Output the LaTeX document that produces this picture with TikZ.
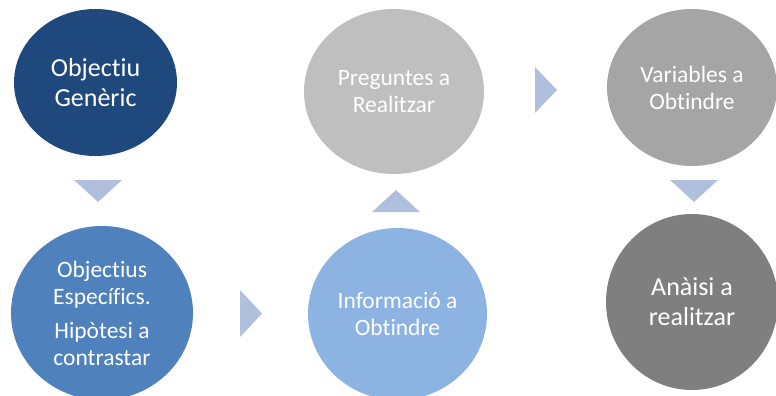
\documentclass[tikz,border=0pt]{standalone}
\usepackage{fontspec}
\setmainfont{Carlito}[Ligatures={NoCommon,NoRare}]
\usetikzlibrary{shapes.geometric}
\definecolor{cA}{HTML}{1F497D}
\definecolor{cB}{HTML}{4F81BD}
\definecolor{cC}{HTML}{BFBFBF}
\definecolor{cD}{HTML}{8DB3E2}
\definecolor{cE}{HTML}{A5A5A5}
\definecolor{cF}{HTML}{7F7F7F}
\definecolor{tri}{HTML}{B0C0DC}
\tikzset{
  bubble/.style={ellipse, inner sep=0pt, text=white, align=center},
  bigtxt/.style={font=\fontsize{26}{30}\selectfont},
  smalltxt/.style={font=\fontsize{23.5}{27}\selectfont},
  arrowtri/.style={fill=tri, draw=none}
}
\begin{document}
\begin{tikzpicture}[x=1pt,y=-1pt]
\useasboundingbox (0,0) rectangle (776,396);
\begin{scope}
\clip (0,0) rectangle (776,396);
\node[bubble, bigtxt, fill=cA, minimum width=163pt, minimum height=147pt] (gen) at (95.5,82.5) {Objectiu\\Genèric};
\node[bubble, smalltxt, fill=cB, minimum width=182pt, minimum height=174pt] (esp) at (102,313) {Objectius\\Específics.\\[7pt]Hipòtesi a\\contrastar};
\node[bubble, smalltxt, fill=cD, minimum width=179pt, minimum height=172pt] (inf) at (397.5,314) {Informació a\\Obtindre};
\node[bubble, smalltxt, fill=cC, minimum width=180pt, minimum height=165pt] (pre) at (394,91.5) {Preguntes a\\Realitzar};
\node[bubble, smalltxt, fill=cE, minimum width=170pt, minimum height=157pt] (var) at (692,87.5) {Variables a\\Obtindre};
\node[bubble, bigtxt, fill=cF, minimum width=172pt, minimum height=176pt] (ana) at (692,302) {Anàisi a\\realitzar};
\end{scope}
% arrow triangles
\fill[arrowtri] (74,180) -- (122,180) -- (98,202) -- cycle;
\fill[arrowtri] (240,290) -- (240,337) -- (262,313.5) -- cycle;
\fill[arrowtri] (372,212) -- (420,212) -- (396,190) -- cycle;
\fill[arrowtri] (535,67) -- (535,113) -- (557,90) -- cycle;
\fill[arrowtri] (670,180) -- (718,180) -- (694,202) -- cycle;
\end{tikzpicture}
\end{document}
